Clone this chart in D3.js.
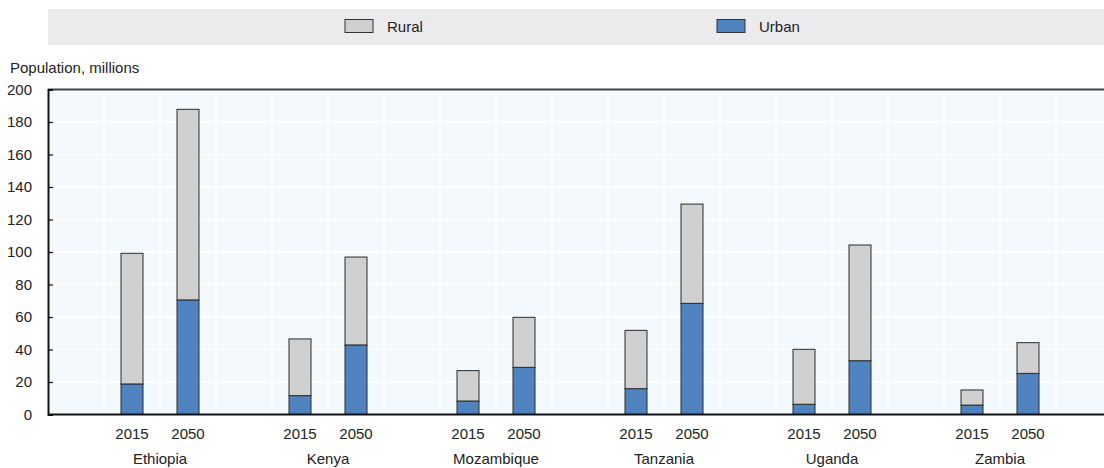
<!DOCTYPE html>
<html lang="en">
<head>
    <meta charset="UTF-8">
    <title>Population, millions</title>
    <script src="https://d3js.org/d3.v7.min.js"></script>
    <style>
        body, html {
            margin: 0;
            padding: 0;
            background: #ffffff;
            overflow: hidden;
        }
        svg text {
            font-family: "Liberation Sans", Arial, sans-serif;
            fill: #222;
        }
    </style>
</head>
<body>
<div id="chart"></div>
<script>
    const countries = ["Ethiopia", "Kenya", "Mozambique", "Tanzania", "Uganda", "Zambia"];
    const years = ["2015", "2050"];
    // urban and total population, millions, per country [2015, 2050]
    const urban = [[18.8, 70.5], [11.6, 42.8], [8.3, 29.0], [15.9, 68.4], [6.3, 33.1], [5.8, 25.3]];
    const total = [[99.2, 187.8], [46.5, 96.9], [27.0, 59.8], [51.8, 129.5], [40.1, 104.3], [15.1, 44.2]];
    const yTicks = [0, 20, 40, 60, 80, 100, 120, 140, 160, 180, 200];

    (function() {
        const width = 1104, height = 468;
        const plotLeft = 48, plotTop = 89.5, plotBottom = 414.5;
        const slot = 56;
        const fontSize = 15;

        const svg = d3.select("#chart").append("svg")
            .attr("width", width)
            .attr("height", height);

        // legend band
        svg.append("rect")
            .attr("x", 48).attr("y", 9)
            .attr("width", width - 48).attr("height", 36)
            .attr("fill", "#ebebed");

        const legend = [
            {name: "Rural", color: "#cfcfcf", x: 345},
            {name: "Urban", color: "#4f84c1", x: 717}
        ];
        const lg = svg.append("g").selectAll("g").data(legend).enter().append("g");
        lg.append("rect")
            .attr("x", d => d.x).attr("y", 19.5)
            .attr("width", 28).attr("height", 13)
            .attr("fill", d => d.color)
            .attr("stroke", "#333").attr("stroke-width", 1);
        lg.append("text")
            .attr("x", d => d.x + 42).attr("y", 31.5)
            .attr("font-size", fontSize)
            .text(d => d.name);

        // axis title
        svg.append("text")
            .attr("x", 10).attr("y", 73)
            .attr("font-size", fontSize)
            .text("Population, millions");

        const x = d3.scaleBand()
            .domain(countries)
            .range([plotLeft, plotLeft + countries.length * 3 * slot]);
        const inner = d3.scaleBand()
            .domain(["", ...years])
            .range([0, 3 * slot]);
        const y = d3.scaleLinear().domain([0, 200]).range([plotBottom, plotTop]);

        // plot background
        svg.append("rect")
            .attr("x", plotLeft).attr("y", plotTop)
            .attr("width", width - plotLeft).attr("height", plotBottom - plotTop)
            .attr("fill", "#f4f9fd");

        // grid
        const vlines = [];
        for (let v = plotLeft + slot; v < width; v += slot) vlines.push(v);
        svg.append("g").selectAll("line").data(vlines).enter().append("line")
            .attr("x1", d => d).attr("x2", d => d)
            .attr("y1", plotTop).attr("y2", plotBottom)
            .attr("stroke", "#ffffff").attr("stroke-width", 1.5);
        svg.append("g").selectAll("line").data(yTicks.slice(1, -1)).enter().append("line")
            .attr("x1", plotLeft).attr("x2", width)
            .attr("y1", d => y(d)).attr("y2", d => y(d))
            .attr("stroke", "#ffffff").attr("stroke-width", 1.5);

        // bars
        const bars = [];
        countries.forEach((c, i) => {
            years.forEach((yr, j) => {
                bars.push({country: c, year: yr, urban: urban[i][j], rural: total[i][j] - urban[i][j]});
            });
        });
        const bw = 22;
        const bx = d => x(d.country) + inner(d.year) + (slot - bw) / 2;
        const bg = svg.append("g").selectAll("g").data(bars).enter().append("g");
        bg.append("rect")
            .attr("x", bx).attr("width", bw)
            .attr("y", d => y(d.urban))
            .attr("height", d => y(0) - y(d.urban))
            .attr("fill", "#4f84c1")
            .attr("stroke", "#2b2b2b").attr("stroke-width", 1);
        bg.append("rect")
            .attr("x", bx).attr("width", bw)
            .attr("y", d => y(d.urban + d.rural))
            .attr("height", d => y(d.urban) - y(d.urban + d.rural))
            .attr("fill", "#cfcfcf")
            .attr("stroke", "#2b2b2b").attr("stroke-width", 1);

        // frame
        svg.append("line")
            .attr("x1", plotLeft).attr("x2", width)
            .attr("y1", plotTop).attr("y2", plotTop)
            .attr("stroke", "#444").attr("stroke-width", 2);
        svg.append("line")
            .attr("x1", plotLeft).attr("x2", width)
            .attr("y1", plotBottom).attr("y2", plotBottom)
            .attr("stroke", "#111").attr("stroke-width", 2);

        // y axis
        const yAxis = d3.axisLeft(y).tickValues(yTicks).tickSize(-5).tickPadding(16);
        const ya = svg.append("g").attr("transform", `translate(${plotLeft},0)`).call(yAxis);
        ya.select(".domain").attr("stroke", "#111").attr("stroke-width", 2);
        ya.selectAll(".tick line").attr("stroke", "#111").attr("stroke-width", 1.2);
        ya.selectAll(".tick text")
            .attr("font-size", fontSize)
            .attr("font-family", "\"Liberation Sans\", Arial, sans-serif")
            .attr("fill", "#222");

        // x labels
        svg.append("g").selectAll("text").data(bars).enter().append("text")
            .attr("x", d => x(d.country) + inner(d.year) + slot / 2)
            .attr("y", 438.5)
            .attr("text-anchor", "middle")
            .attr("font-size", fontSize)
            .text(d => d.year);
        svg.append("g").selectAll("text").data(countries).enter().append("text")
            .attr("x", d => x(d) + inner(years[0]) + slot)
            .attr("y", 464)
            .attr("text-anchor", "middle")
            .attr("font-size", fontSize)
            .text(d => d);
    })();
</script>
</body>
</html>
